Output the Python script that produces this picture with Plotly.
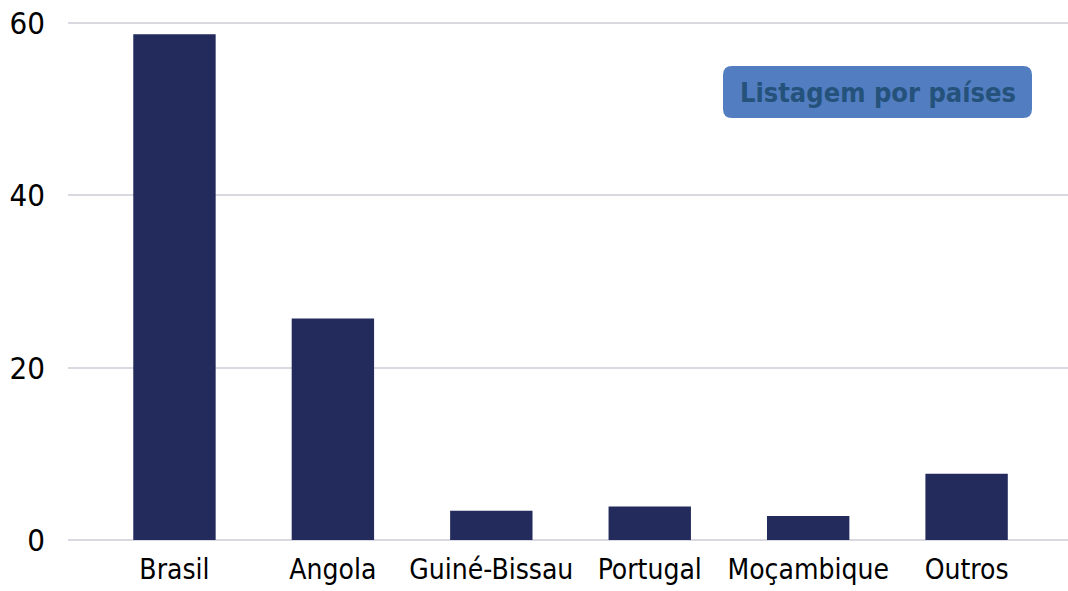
import plotly.graph_objects as go

# data
paises = ['Brasil', 'Angola', 'Guiné-Bissau', 'Portugal', 'Moçambique', 'Outros']
valores = [58.7, 25.7, 3.4, 3.9, 2.8, 7.7]
y_ticks = [0, 20, 40, 60]
caixa_texto = 'Listagem por países'

bar_color = '#232A5C'
grid_color = '#D9D9E1'
font_family = '"Liberation Sans Narrow", "DejaVu Sans Condensed", "Roboto", sans-serif'

W, H = 1068, 591
ml, mr, mt, mb = 68, 0, 21, 51
plot_h = H - mt - mb

fig = go.Figure()
fig.add_trace(go.Bar(x=list(range(len(paises))), y=valores, width=0.52,
                     marker=dict(color=bar_color, line=dict(width=0)),
                     hoverinfo='y'))

fig.update_layout(
    width=W, height=H,
    margin=dict(l=ml, r=mr, t=mt, b=mb),
    plot_bgcolor='white', paper_bgcolor='white',
    showlegend=False,
    font=dict(family=font_family, size=28, color='black'),
)
fig.update_xaxes(
    tickmode='array', tickvals=list(range(len(paises))), ticktext=paises,
    range=[-0.672, 5.64], showgrid=False, zeroline=False, showline=False,
    ticks='', ticklabelstandoff=10, automargin=False,
)
# slightly above 60 so the top gridline is kept
fig.update_yaxes(
    range=[0, 60.25], tickvals=y_ticks, showgrid=True, gridcolor=grid_color,
    gridwidth=1.5, zeroline=True, zerolinecolor=grid_color, zerolinewidth=1.5,
    showline=False, ticks='', ticklabelstandoff=22, automargin=False,
    ticklabeloverflow='allow', tickfont=dict(size=31),
)

# rounded box with the label
cx, cy = 0.8095, (540 - 92) / plot_h
bw, bh = 309 / 1000, 52 / plot_h
rx, ry = 9 / 1000, 9 / plot_h
x0, x1 = cx - bw / 2, cx + bw / 2
y0, y1 = cy - bh / 2, cy + bh / 2
path = (f'M {x0+rx},{y0} L {x1-rx},{y0} Q {x1},{y0} {x1},{y0+ry} '
        f'L {x1},{y1-ry} Q {x1},{y1} {x1-rx},{y1} L {x0+rx},{y1} '
        f'Q {x0},{y1} {x0},{y1-ry} L {x0},{y0+ry} Q {x0},{y0} {x0+rx},{y0} Z')
fig.add_shape(type='path', path=path, xref='paper', yref='paper',
              fillcolor='#527DC1', line=dict(width=0), layer='above')
fig.add_annotation(x=cx, y=cy, xref='paper', yref='paper', text=f'<b>{caixa_texto}</b>',
                   xanchor='center', yanchor='middle', showarrow=False,
                   font=dict(family=font_family, size=27, color='#24527A'))

# drop the browser's default body margin so the figure fills the window
fig.write_html('out.html', config={'displayModeBar': False},
               post_script="document.body.style.margin='0';")
